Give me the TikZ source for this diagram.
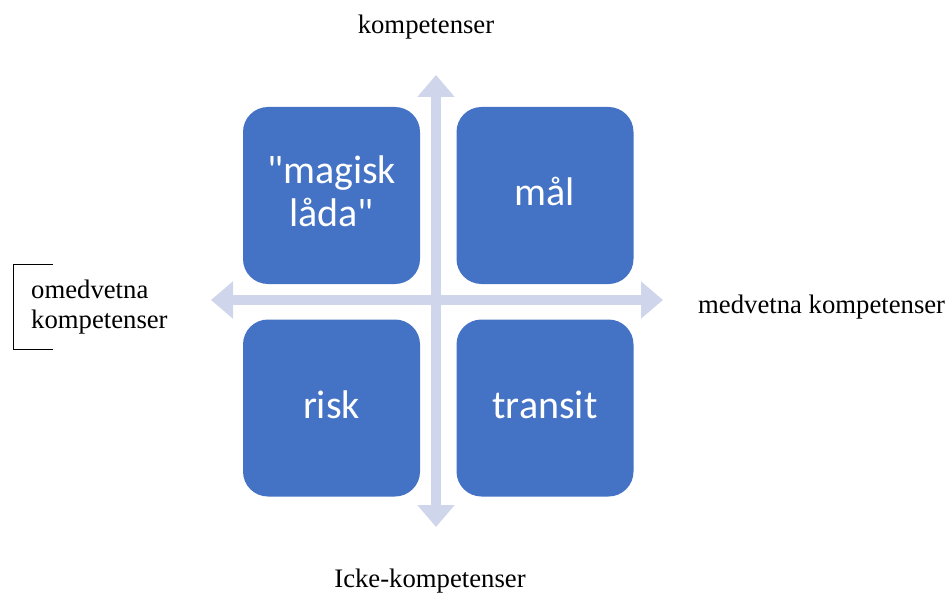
\documentclass[tikz,border=0pt]{standalone}
\usepackage{fontspec}
\setmainfont{Liberation Serif}
\newfontfamily\boxfont{Carlito}
\usetikzlibrary{arrows.meta}
\definecolor{boxblue}{HTML}{4472C4}
\definecolor{axislav}{HTML}{CFD5EA}
\tikzset{
  quad/.style={fill=boxblue, rounded corners=25pt, minimum width=177pt, minimum height=177pt, inner sep=0pt},
  qtext/.style={text=white, align=center, inner sep=0pt, font=\boxfont\fontsize{40}{43}\selectfont},
  axis/.style={draw=axislav, line width=9.5pt,
    {Triangle[width=36pt,length=22pt]}-{Triangle[width=36pt,length=22pt]}},
  lbl/.style={inner sep=0pt, font=\fontsize{26.7}{30}\selectfont}
}
\begin{document}
\begin{tikzpicture}[x=1pt,y=-1pt]
  \useasboundingbox (0,0) rectangle (947,596);
  % axes
  \coordinate (up) at (436,75);
  \coordinate (down) at (436,527);
  \coordinate (left) at (211,300);
  \coordinate (right) at (663,300);
  \draw[axis] (up) -- (down);
  \draw[axis] (left) -- (right);
  % quadrants
  \node[quad] (tl) at (331.5,195.5) {};
  \node[quad] (tr) at (545,195.5) {};
  \node[quad] (bl) at (331.5,408) {};
  \node[quad] (br) at (545,408) {};
  \node[qtext] (tlt) at ([yshift=4pt]tl.center) {"magisk\\låda"};
  \node[qtext] (trt) at ([yshift=4pt]tr.center) {mål};
  \node[qtext] (blt) at ([yshift=3pt]bl.center) {risk};
  \node[qtext] (brt) at ([yshift=3pt]br.center) {transit};
  % axis labels
  \node[lbl] (top) at (426,27) {kompetenser};
  \node[lbl] (bottom) at (430,581) {Icke-kompetenser};
  \node[lbl, anchor=west] (east) at (698,307) {medvetna kompetenser};
  \node[lbl, anchor=west, align=left] (west) at (31,307) {omedvetna\\kompetenser};
  % bracket
  \coordinate (bt) at (53,264);
  \coordinate (bb) at (53,349);
  \draw[line width=0.8pt] (bt) -- (13,264) -- (13,349) -- (bb);
\end{tikzpicture}
\end{document}
